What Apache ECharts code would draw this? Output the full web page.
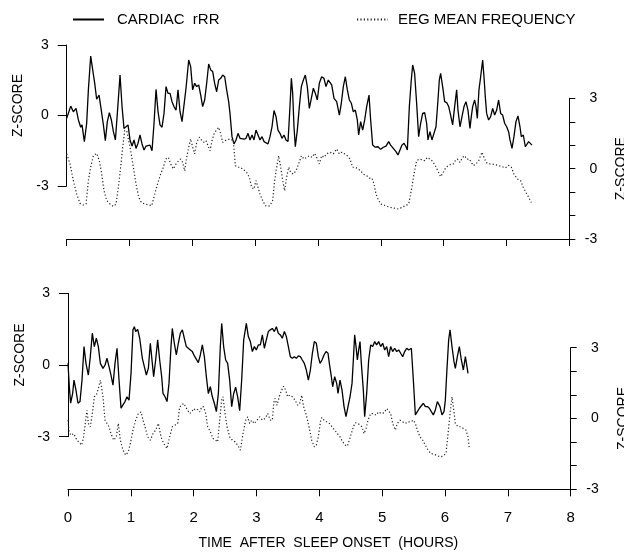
<!DOCTYPE html>
<html><head><meta charset="utf-8">
<script src="https://cdn.jsdelivr.net/npm/echarts@6/dist/echarts.min.js"></script>
<style>html,body{margin:0;padding:0;background:#fff}#c{width:624px;height:554px}</style>
</head><body><div id="c"></div>
<script>
const seriesNames = ['CARDIAC  rRR', 'EEG MEAN FREQUENCY'];
const xTitle = 'TIME  AFTER  SLEEP ONSET  (HOURS)';
const yTitle = 'Z-SCORE';

const cardiacTop = [[0,-0.12],[0.064,0.40],[0.106,0.16],[0.149,0.30],[0.186,-0.19],[0.223,-0.50],[0.244,-0.40],[0.281,-1.11],[0.318,-0.33],[0.345,1.09],[0.382,2.53],[0.414,1.94],[0.446,1.37],[0.477,0.69],[0.515,0.87],[0.546,0.30],[0.584,-0.40],[0.615,-1.07],[0.647,-0.26],[0.679,0.12],[0.711,-0.19],[0.743,-0.69],[0.775,-1.04],[0.806,0.09],[0.849,1.72],[0.881,0.38],[0.912,-0.55],[0.944,-0.48],[0.976,-0.40],[1.008,-1.04],[1.040,-1.30],[1.072,-1.04],[1.103,-1.40],[1.135,-1.18],[1.167,-0.83],[1.199,-1.21],[1.231,-1.47],[1.263,-1.30],[1.294,-1.35],[1.326,-1.26],[1.358,-1.50],[1.390,-0.33],[1.422,1.11],[1.454,0.16],[1.485,-0.40],[1.517,-0.50],[1.549,0.09],[1.581,1.23],[1.613,0.94],[1.645,0.94],[1.676,0.59],[1.708,0.38],[1.740,0.23],[1.772,1.09],[1.804,0.16],[1.836,-0.26],[1.867,-0.19],[1.899,1.16],[1.942,2.36],[1.973,2.08],[2.005,1.09],[2.037,1.37],[2.069,1.23],[2.101,1.30],[2.133,0.87],[2.164,0.38],[2.196,0.66],[2.228,1.37],[2.260,2.19],[2.292,1.94],[2.324,1.87],[2.355,1.37],[2.387,1.01],[2.419,1.51],[2.451,1.58],[2.483,1.72],[2.515,1.65],[2.546,1.09],[2.578,0.59],[2.599,0.09],[2.631,-0.90],[2.663,-1.21],[2.695,-1.04],[2.727,-0.76],[2.759,-0.97],[2.790,-1.04],[2.822,-1.01],[2.854,-0.97],[2.886,-0.76],[2.918,-1.04],[2.950,-0.83],[2.981,-1.04],[3.013,-0.62],[3.045,-0.83],[3.077,-1.04],[3.109,-0.90],[3.141,-1.11],[3.172,-1.18],[3.204,-1.21],[3.236,-0.90],[3.268,-0.48],[3.300,0.21],[3.332,-0.05],[3.363,-0.62],[3.395,-0.76],[3.427,-0.97],[3.459,-0.83],[3.491,-1.04],[3.523,-1.11],[3.554,0.38],[3.576,1.58],[3.597,0.94],[3.618,-0.48],[3.639,-1.33],[3.671,-0.62],[3.703,0.38],[3.735,1.23],[3.767,1.51],[3.798,1.72],[3.830,1.23],[3.862,0.30],[3.894,0.73],[3.926,1.16],[3.958,0.94],[3.989,0.66],[4.021,1.37],[4.058,1.65],[4.095,1.58],[4.127,1.23],[4.164,1.51],[4.191,1.58],[4.218,1.30],[4.255,0.73],[4.297,0.59],[4.340,0.02],[4.371,0.52],[4.403,1.23],[4.435,1.65],[4.467,1.09],[4.499,0.66],[4.531,0.52],[4.562,0.16],[4.594,0.23],[4.626,-0.19],[4.647,-0.83],[4.679,-0.26],[4.711,-0.62],[4.743,-0.19],[4.775,0.38],[4.812,0.87],[4.838,-0.19],[4.870,-1.26],[4.912,-1.35],[4.955,-1.33],[4.997,-1.44],[5.040,-1.35],[5.082,-1.30],[5.125,-1.11],[5.156,-1.26],[5.199,-1.40],[5.241,-1.54],[5.273,-1.68],[5.305,-1.47],[5.337,-1.26],[5.369,-1.18],[5.401,-1.33],[5.422,-1.47],[5.454,0.38],[5.485,1.51],[5.507,2.15],[5.538,1.79],[5.570,0.52],[5.602,-0.90],[5.634,-0.33],[5.666,0.09],[5.698,0.12],[5.729,-0.33],[5.751,-1.04],[5.782,-0.69],[5.814,-1.04],[5.846,-0.76],[5.878,-0.48],[5.910,0.66],[5.931,1.51],[5.952,1.79],[5.984,1.23],[6.016,0.59],[6.048,0.55],[6.080,0.38],[6.111,0.02],[6.143,-0.40],[6.175,0.38],[6.207,1.09],[6.228,0.23],[6.260,-0.48],[6.292,-0.05],[6.324,0.38],[6.355,0.59],[6.387,0.23],[6.419,-0.55],[6.440,-0.05],[6.462,0.38],[6.493,0.66],[6.515,0.38],[6.536,-0.12],[6.562,1.09],[6.589,1.65],[6.621,2.36],[6.642,1.65],[6.663,0.80],[6.684,0.09],[6.716,-0.19],[6.748,-0.05],[6.780,0.30],[6.812,0.02],[6.844,0.23],[6.875,0.66],[6.907,0.09],[6.939,0.02],[6.971,-0.33],[7.003,-0.48],[7.034,-0.69],[7.056,-1.04],[7.088,-1.40],[7.119,-0.90],[7.151,-0.26],[7.183,-0.02],[7.215,-0.48],[7.236,-0.90],[7.268,-0.83],[7.300,-1.33],[7.321,-1.40],[7.353,-1.11],[7.374,-1.04],[7.406,-1.26]];

const eegTop = [[0,0.63],[0.053,0.20],[0.106,-0.51],[0.159,-1.08],[0.212,-1.48],[0.265,-1.55],[0.308,-1.51],[0.345,-0.51],[0.382,0.06],[0.424,0.55],[0.477,0.65],[0.520,0.34],[0.557,-0.23],[0.594,-0.94],[0.637,-1.36],[0.690,-1.51],[0.743,-1.61],[0.785,-1.51],[0.822,-0.80],[0.859,0.06],[0.891,0.91],[0.923,1.62],[0.955,1.62],[0.987,1.19],[1.019,0.77],[1.061,0.06],[1.103,-0.65],[1.146,-1.22],[1.188,-1.44],[1.241,-1.51],[1.294,-1.54],[1.353,-1.58],[1.379,-1.51],[1.416,-0.94],[1.454,-0.58],[1.496,-0.23],[1.538,0.06],[1.576,0.41],[1.618,0.48],[1.655,0.20],[1.698,-0.01],[1.740,0.20],[1.782,0.34],[1.814,0.41],[1.846,0.27],[1.878,-0.09],[1.910,0.48],[1.942,0.91],[1.973,1.27],[2.005,0.91],[2.037,0.63],[2.069,1.12],[2.111,1.34],[2.154,1.19],[2.186,1.12],[2.218,1.19],[2.249,1.12],[2.281,0.77],[2.313,1.19],[2.345,1.48],[2.377,1.62],[2.419,1.76],[2.451,1.48],[2.483,1.12],[2.515,1.19],[2.546,1.27],[2.599,1.27],[2.653,1.19],[2.684,0.13],[2.716,0.06],[2.759,0.06],[2.801,-0.01],[2.865,-0.16],[2.907,-0.37],[2.944,-0.80],[2.981,-0.87],[3.013,-0.51],[3.045,-0.80],[3.077,-1.08],[3.119,-1.36],[3.162,-1.58],[3.194,-1.61],[3.236,-1.58],[3.278,-1.36],[3.310,-0.51],[3.342,0.06],[3.374,0.55],[3.406,0.06],[3.438,-0.51],[3.469,-0.94],[3.501,-0.37],[3.533,0.06],[3.565,-0.16],[3.607,-0.23],[3.650,-0.09],[3.692,0.20],[3.735,0.55],[3.777,0.41],[3.820,0.48],[3.862,0.55],[3.905,0.48],[3.947,0.65],[3.979,0.48],[4.021,0.20],[4.058,0.55],[4.095,0.48],[4.138,0.63],[4.191,0.70],[4.244,0.63],[4.297,0.84],[4.340,0.63],[4.382,0.70],[4.424,0.63],[4.467,0.55],[4.509,0.41],[4.551,0.06],[4.594,0.06],[4.637,-0.01],[4.679,-0.09],[4.721,-0.23],[4.775,-0.30],[4.817,-0.40],[4.859,-0.40],[4.891,-0.65],[4.923,-1.08],[4.955,-1.29],[4.997,-1.51],[5.050,-1.55],[5.103,-1.61],[5.156,-1.65],[5.210,-1.68],[5.279,-1.72],[5.337,-1.65],[5.390,-1.58],[5.443,-1.51],[5.485,-0.94],[5.528,-0.23],[5.570,0.34],[5.613,0.41],[5.655,0.38],[5.698,0.34],[5.740,0.48],[5.782,0.41],[5.825,0.31],[5.867,0.13],[5.910,-0.11],[5.952,-0.34],[5.995,-0.16],[6.037,0.06],[6.080,0.13],[6.122,0.20],[6.154,0.20],[6.186,0.34],[6.218,0.41],[6.260,0.27],[6.302,0.48],[6.334,0.55],[6.366,0.41],[6.408,0.41],[6.440,0.27],[6.472,0.13],[6.515,0.20],[6.557,0.34],[6.610,0.70],[6.642,0.48],[6.674,0.27],[6.716,0.20],[6.769,0.20],[6.822,0.17],[6.875,0.13],[6.928,0.09],[6.981,0.03],[7.034,0.14],[7.077,0.06],[7.119,-0.23],[7.172,-0.44],[7.225,-0.51],[7.268,-0.80],[7.310,-1.01],[7.353,-1.22],[7.395,-1.44]];

const cardiacBottom = [[0,0.07],[0.021,-0.91],[0.042,-1.60],[0.074,-1.19],[0.095,-0.63],[0.127,-1.05],[0.159,-1.60],[0.191,-1.53],[0.223,-0.63],[0.255,0.77],[0.286,0.07],[0.324,-0.42],[0.355,0.35],[0.387,1.33],[0.419,0.77],[0.451,1.12],[0.483,0.77],[0.515,0.07],[0.557,-0.14],[0.589,0],[0.621,0.28],[0.653,-0.07],[0.684,-0.42],[0.716,-0.84],[0.748,0.07],[0.780,0.70],[0.812,-0.63],[0.844,-1.81],[0.875,-1.67],[0.907,-1.53],[0.939,-1.33],[0.971,-1.47],[1.003,-0.35],[1.034,1.47],[1.056,1.60],[1.077,1.40],[1.109,1.49],[1.141,1.12],[1.183,0.28],[1.215,-0.07],[1.247,-0.42],[1.279,-0.14],[1.310,0.91],[1.342,0.07],[1.363,-0.49],[1.395,0.21],[1.427,1.05],[1.459,0.21],[1.491,-0.49],[1.512,-1.19],[1.544,-1.33],[1.576,-1.53],[1.607,-0.77],[1.639,0.77],[1.660,1.53],[1.692,0.91],[1.724,0.42],[1.756,0.91],[1.788,1.33],[1.820,1.47],[1.851,1.12],[1.883,0.77],[1.915,0.70],[1.947,0.63],[1.979,0.56],[2.011,0.38],[2.042,0.35],[2.074,0.10],[2.106,0.42],[2.138,0.84],[2.170,0.35],[2.202,-0.49],[2.233,-1.19],[2.265,-0.91],[2.297,-1.33],[2.329,-1.60],[2.361,-1.95],[2.393,-1.19],[2.424,0.77],[2.446,1.74],[2.477,0.77],[2.509,0.21],[2.541,0.07],[2.573,-0.63],[2.605,-1.74],[2.637,-1.19],[2.668,-0.93],[2.700,-1.33],[2.732,-1.91],[2.764,-0.63],[2.796,1.05],[2.838,1.74],[2.870,1.19],[2.902,0.98],[2.934,0.56],[2.966,0.77],[2.997,0.63],[3.029,0.84],[3.061,0.84],[3.093,1.26],[3.125,0.70],[3.156,1.05],[3.188,1.40],[3.220,1.47],[3.252,1.53],[3.284,1.40],[3.316,1.60],[3.347,1.33],[3.379,1.26],[3.411,1.12],[3.443,1.40],[3.475,1.19],[3.507,0.77],[3.538,0.35],[3.570,0.28],[3.602,0.35],[3.634,0.28],[3.666,0.38],[3.698,0.35],[3.729,0.21],[3.761,0.07],[3.793,-0.21],[3.825,-0.63],[3.857,-0.21],[3.889,0.49],[3.920,0.98],[3.952,0.91],[3.984,0.35],[4.011,0.07],[4.042,0.21],[4.074,0.42],[4.106,0.56],[4.138,0.49],[4.159,0.07],[4.191,-0.49],[4.212,-0.91],[4.244,-0.49],[4.276,-0.77],[4.297,-1.19],[4.329,-0.63],[4.361,-1.05],[4.393,-1.74],[4.424,-2.16],[4.456,-1.74],[4.488,-1.33],[4.520,-0.77],[4.541,0.21],[4.562,1.26],[4.584,0.77],[4.605,0.21],[4.626,0.63],[4.647,0.98],[4.668,0.07],[4.700,-1.05],[4.721,-2.16],[4.753,-1.19],[4.785,0.21],[4.817,0.84],[4.849,0.77],[4.881,0.98],[4.912,0.84],[4.944,0.98],[4.976,0.77],[5.008,0.91],[5.040,0.63],[5.072,0.77],[5.103,0.35],[5.135,0.77],[5.167,0.56],[5.199,0.70],[5.231,0.56],[5.263,0.63],[5.294,0.49],[5.326,0.35],[5.358,0.56],[5.390,0.70],[5.422,0.63],[5.464,0.70],[5.496,-0.63],[5.528,-2.09],[5.560,-1.95],[5.592,-1.81],[5.623,-1.74],[5.655,-1.60],[5.687,-1.74],[5.719,-1.74],[5.751,-1.81],[5.782,-1.95],[5.814,-2.09],[5.846,-1.88],[5.878,-1.53],[5.899,-1.47],[5.920,-1.74],[5.952,-2.09],[5.984,-1.95],[6.005,-1.47],[6.027,-0.35],[6.058,1.05],[6.080,1.47],[6.111,0.77],[6.143,0.14],[6.164,-0.14],[6.196,0.35],[6.228,0.77],[6.260,0.21],[6.292,-0.21],[6.324,0.35],[6.345,0.42],[6.366,-0.35]];

const eegBottom = [[0,-0.07],[0.016,-0.56],[0.048,-0.71],[0.090,-0.64],[0.143,-0.92],[0.218,-1.13],[0.249,-0.78],[0.281,-0.07],[0.302,0.35],[0.324,-0.21],[0.355,-0.35],[0.387,0.21],[0.419,0.92],[0.451,0.99],[0.483,1.27],[0.515,1.62],[0.536,1.62],[0.557,0.92],[0.589,-0.07],[0.621,-0.21],[0.653,-0.35],[0.684,-0.64],[0.727,-0.92],[0.769,-0.78],[0.801,-0.21],[0.833,-0.92],[0.875,-1.34],[0.918,-1.55],[0.960,-1.41],[0.992,-1.06],[1.034,-0.49],[1.077,-0.07],[1.119,0.21],[1.162,0.28],[1.194,-0.07],[1.225,-0.35],[1.268,-0.78],[1.310,-0.92],[1.353,-0.64],[1.395,-0.49],[1.438,-0.21],[1.480,-0.78],[1.523,-1.06],[1.576,-1.27],[1.618,-0.78],[1.660,-0.35],[1.703,-0.28],[1.745,-0.21],[1.777,0.49],[1.809,0.56],[1.841,0.64],[1.873,0.49],[1.905,0.35],[1.936,0.21],[1.968,0.28],[2.000,0.42],[2.032,0.35],[2.064,0.38],[2.095,0.28],[2.127,0.49],[2.159,0.49],[2.191,0.21],[2.223,-0.35],[2.265,-0.56],[2.308,-0.85],[2.350,-0.92],[2.382,-0.99],[2.414,-0.07],[2.446,0.78],[2.467,0.92],[2.499,0.21],[2.531,-0.35],[2.573,-0.78],[2.615,-0.92],[2.658,-0.99],[2.700,-1.13],[2.743,-1.34],[2.785,-0.64],[2.828,-0.07],[2.859,0.07],[2.891,-0.21],[2.923,-0.07],[2.966,-0.21],[3.008,-0.07],[3.050,0.07],[3.093,-0.07],[3.135,0],[3.178,0.21],[3.220,-0.07],[3.252,-0.07],[3.273,0.64],[3.294,0.85],[3.326,0.56],[3.369,0.99],[3.401,1.20],[3.432,1.37],[3.464,1.20],[3.496,0.92],[3.528,0.99],[3.570,0.92],[3.613,0.78],[3.655,0.56],[3.687,0.64],[3.719,0.99],[3.751,0.49],[3.793,0.14],[3.836,-0.35],[3.878,-0.92],[3.920,-1.20],[3.952,-1.13],[3.984,-0.78],[4.021,-0.07],[4.042,0.04],[4.074,-0.07],[4.117,-0.14],[4.159,-0.21],[4.202,-0.35],[4.244,-0.49],[4.286,-0.64],[4.329,-0.78],[4.371,-0.99],[4.414,-1.13],[4.446,-1.17],[4.477,-0.92],[4.509,-0.64],[4.541,-0.35],[4.573,-0.18],[4.615,-0.21],[4.647,-0.28],[4.679,-0.35],[4.711,-0.64],[4.743,-0.42],[4.775,-0.07],[4.817,0.21],[4.859,0.21],[4.902,0.14],[4.944,0.28],[4.987,0.21],[5.029,0.24],[5.072,0.42],[5.103,0.49],[5.135,0.21],[5.167,-0.21],[5.210,-0.49],[5.241,-0.21],[5.284,-0.07],[5.326,-0.14],[5.369,-0.21],[5.411,-0.14],[5.454,-0.14],[5.496,-0.07],[5.528,-0.21],[5.560,-0.49],[5.602,-0.78],[5.645,-0.92],[5.687,-1.13],[5.729,-1.34],[5.772,-1.48],[5.814,-1.51],[5.857,-1.55],[5.899,-1.60],[5.942,-1.62],[5.984,-1.55],[6.016,-1.48],[6.048,-0.64],[6.080,0.21],[6.111,0.92],[6.133,0.49],[6.164,-0.21],[6.207,-0.35],[6.249,-0.35],[6.292,-0.42],[6.334,-0.49],[6.366,-0.78],[6.387,-1.27]];

const FONT = '"Liberation Sans", Arial, sans-serif';
const BLACK = '#000';
const chart = echarts.init(document.getElementById('c'), null, {renderer: 'canvas'});

const gridBoxes = [
  {left: 66.7, top: 45, width: 502.6, height: 141},
  {left: 66.7, top: 98.3, width: 502.6, height: 140.7},
  {left: 68, top: 293.3, width: 502.7, height: 143.4},
  {left: 68, top: 347.7, width: 502.7, height: 141.6}
];

const axisLine = {show: true, onZero: false, lineStyle: {color: BLACK, width: 1}};

const xAxes = gridBoxes.map((g, i) => ({
  type: 'value', gridIndex: i, min: 0, max: 8, interval: 1,
  show: i === 1 || i === 3,
  axisLine: axisLine,
  axisTick: {show: true, inside: false, length: 7, lineStyle: {color: BLACK, width: 1}},
  axisLabel: {show: i === 3, color: BLACK, fontSize: 15, fontFamily: FONT, margin: 21},
  splitLine: {show: false},
  name: i === 3 ? xTitle : '',
  nameLocation: 'middle', nameGap: 47,
  nameTextStyle: {color: BLACK, fontSize: 14, fontFamily: FONT, padding: [0, 0, 0, 18]}
}));

function leftAxis(gi) {
  return {
    type: 'value', gridIndex: gi, position: 'left', min: -3, max: 3, interval: 3,
    axisLine: axisLine,
    axisTick: {show: true, inside: false, length: 9, lineStyle: {color: BLACK, width: 1}},
    axisLabel: {color: BLACK, fontSize: 14, fontFamily: FONT, margin: 18},
    splitLine: {show: false},
    name: yTitle, nameLocation: 'middle', nameGap: 41, nameRotate: 90,
    nameTextStyle: {color: BLACK, fontSize: 14, fontFamily: FONT, padding: [0, 0, 0, 20]}
  };
}
function rightAxis(gi) {
  return {
    type: 'value', gridIndex: gi, position: 'right', min: -3, max: 3, interval: 1,
    axisLine: axisLine,
    axisTick: {show: true, inside: false, length: 6, lineStyle: {color: BLACK, width: 1}},
    axisLabel: {color: BLACK, fontSize: 14, fontFamily: FONT, margin: 28, align: 'right',
      formatter: v => (v % 3 === 0 ? String(v) : '')},
    splitLine: {show: false},
    name: yTitle, nameLocation: 'middle', nameGap: 45, nameRotate: 90,
    nameTextStyle: {color: BLACK, fontSize: 14, fontFamily: FONT}
  };
}

const solidStyle = {color: BLACK, width: 1.3, type: 'solid'};
const dotStyle = {color: '#222', width: 1.2, type: [1.2, 2.2]};

function lineSeries(name, data, gi, style) {
  return {
    type: 'line', name: name, xAxisIndex: gi, yAxisIndex: gi, data: data,
    symbol: 'none', smooth: false, lineStyle: style, itemStyle: {color: style.color},
    animation: false, silent: true
  };
}

const legendCommon = {
  top: 12, padding: 0, itemWidth: 31, itemHeight: 12, selectedMode: false,
  itemStyle: {color: 'rgba(0,0,0,0)', borderWidth: 0, opacity: 0}
};

chart.setOption({
  animation: false,
  backgroundColor: '#fff',
  grid: gridBoxes.map(g => Object.assign({containLabel: false, outerBoundsMode: 'none'}, g)),
  legend: [
    Object.assign({left: 72, data: [seriesNames[0]],
      textStyle: {color: BLACK, fontSize: 15, fontFamily: FONT, padding: [0, 0, 0, 8]}}, legendCommon),
    Object.assign({left: 356, data: [seriesNames[1]],
      textStyle: {color: BLACK, fontSize: 15, fontFamily: FONT, padding: [0, 0, 0, 5]}}, legendCommon)
  ],
  xAxis: xAxes,
  yAxis: [leftAxis(0), rightAxis(1), leftAxis(2), rightAxis(3)],
  series: [
    lineSeries(seriesNames[0], cardiacTop, 0, solidStyle),
    lineSeries(seriesNames[1], eegTop, 1, dotStyle),
    lineSeries(seriesNames[0], cardiacBottom, 2, solidStyle),
    lineSeries(seriesNames[1], eegBottom, 3, dotStyle)
  ]
});
</script>
</body></html>
